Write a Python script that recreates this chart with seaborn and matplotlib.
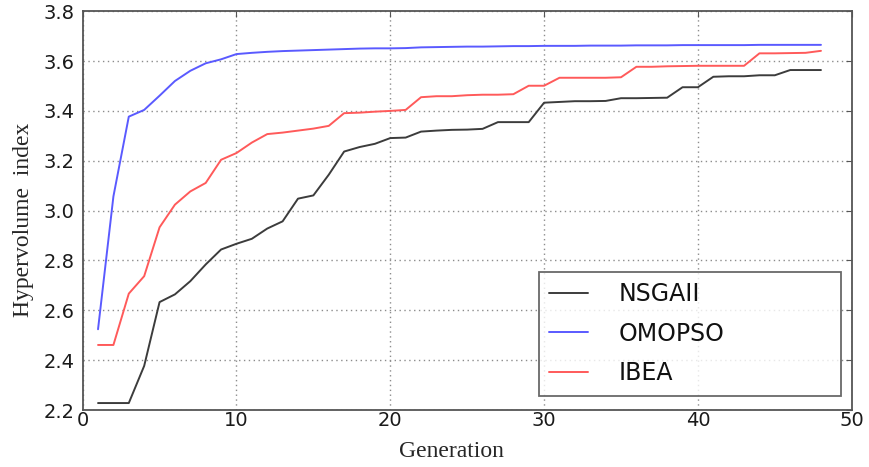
import matplotlib
matplotlib.use("Agg")
import matplotlib.pyplot as plt
import seaborn as sns
import pandas as pd

generations = list(range(1, 49))
nsgaii = [2.228, 2.228, 2.228, 2.377, 2.633, 2.664, 2.717, 2.784, 2.844, 2.867,
          2.887, 2.928, 2.957, 3.048, 3.061, 3.144, 3.237, 3.255, 3.268, 3.291,
          3.293, 3.317, 3.321, 3.324, 3.325, 3.328, 3.355, 3.355, 3.355, 3.433,
          3.436, 3.439, 3.439, 3.440, 3.451, 3.451, 3.452, 3.453, 3.495, 3.495,
          3.537, 3.539, 3.539, 3.543, 3.543, 3.564, 3.564, 3.564]
omopso = [2.524, 3.057, 3.377, 3.404, 3.461, 3.520, 3.561, 3.591, 3.607, 3.628,
          3.633, 3.637, 3.640, 3.642, 3.644, 3.646, 3.648, 3.650, 3.651, 3.651,
          3.652, 3.655, 3.656, 3.657, 3.658, 3.658, 3.659, 3.660, 3.660, 3.661,
          3.661, 3.661, 3.662, 3.662, 3.662, 3.663, 3.663, 3.663, 3.664, 3.664,
          3.664, 3.664, 3.664, 3.665, 3.665, 3.665, 3.665, 3.665]
ibea = [2.461, 2.461, 2.667, 2.737, 2.933, 3.024, 3.077, 3.111, 3.204, 3.231,
        3.273, 3.307, 3.313, 3.321, 3.329, 3.340, 3.391, 3.393, 3.397, 3.400,
        3.404, 3.455, 3.459, 3.459, 3.463, 3.465, 3.465, 3.467, 3.501, 3.501,
        3.533, 3.533, 3.533, 3.533, 3.535, 3.577, 3.577, 3.579, 3.580, 3.581,
        3.581, 3.581, 3.581, 3.631, 3.631, 3.632, 3.633, 3.641]
series_names = ["NSGAII", "OMOPSO", "IBEA"]
colors = ["#3c3c3c", "#5a5aff", "#ff5a5a"]
x_ticks = [0, 10, 20, 30, 40, 50]
y_ticks = [2.2, 2.4, 2.6, 2.8, 3.0, 3.2, 3.4, 3.6, 3.8]

df = pd.DataFrame({
    "Generation": generations * 3,
    "value": nsgaii + omopso + ibea,
    "algo": sum([[n] * len(generations) for n in series_names], []),
})

sns.set_style("white")
plt.rcParams["font.family"] = ["DejaVu Sans"]

fig = plt.figure(figsize=(8.7, 4.67), dpi=100)
ax = fig.add_axes([0.095, 0.122, 0.884, 0.854])
sns.lineplot(data=df, x="Generation", y="value", hue="algo",
             hue_order=series_names, palette=colors, linewidth=1.4, ax=ax)

ax.set_xlim(0, 50)
ax.set_ylim(2.2, 3.8)
ax.set_xticks(x_ticks)
ax.set_yticks(y_ticks)
ax.set_yticklabels([f"{v:.1f}" for v in y_ticks])
ax.grid(True, linestyle=(0, (1, 2.5)), color="#8c8c8c", linewidth=1.0)
for s in ax.spines.values():
    s.set_color("#555555")
    s.set_linewidth(1.3)
ax.tick_params(axis="both", direction="in", length=4, width=0.8, color="#555555",
               labelsize=14, top=True, right=True, labelcolor="#1a1a1a")
ax.tick_params(axis="x", pad=1)
ax.tick_params(axis="y", pad=6)

ax.set_xlabel("Generation", family="Liberation Serif", fontsize=17)
ax.set_ylabel("Hypervolume  index", family="Liberation Serif", fontsize=17)
ax.xaxis.set_label_coords(0.479, -0.078)
ax.yaxis.set_label_coords(-0.063, 0.476)

leg = ax.legend(loc="lower left", bbox_to_anchor=(0.593, 0.036, 0.393, 0.313),
                mode="expand", borderaxespad=0, fontsize=17, frameon=True,
                fancybox=False, handlelength=1.65, handletextpad=1.27,
                labelspacing=0.65, borderpad=0.45)
leg.get_frame().set_edgecolor("#444444")
leg.get_frame().set_linewidth(1.3)
for t in leg.get_texts():
    t.set_color("#111111")

fig.savefig("out.png", dpi=100)
